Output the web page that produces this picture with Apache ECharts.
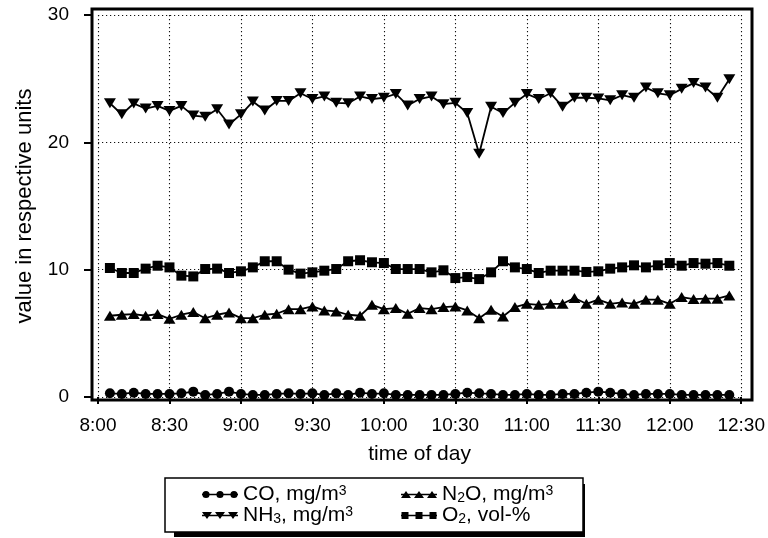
<!DOCTYPE html>
<html><head><meta charset="utf-8">
<script src="https://cdn.jsdelivr.net/npm/echarts@6/dist/echarts.min.js"></script>
<style>html,body{margin:0;padding:0;background:#fff}#c{width:768px;height:538px}</style>
</head><body><div id="c"></div>
<script>
// ---- data ----
const times = ['8:05','8:10','8:15','8:20','8:25','8:30','8:35','8:40','8:45','8:50','8:55',
  '9:00','9:05','9:10','9:15','9:20','9:25','9:30','9:35','9:40','9:45','9:50','9:55',
  '10:00','10:05','10:10','10:15','10:20','10:25','10:30','10:35','10:40','10:45','10:50','10:55',
  '11:00','11:05','11:10','11:15','11:20','11:25','11:30','11:35','11:40','11:45','11:50','11:55',
  '12:00','12:05','12:10','12:15','12:20','12:25'];
const co = [0.29,0.24,0.34,0.24,0.24,0.24,0.29,0.42,0.16,0.24,0.42,0.24,0.16,0.16,0.24,0.29,0.24,0.29,0.16,0.29,0.16,0.34,0.24,0.29,0.16,0.16,0.16,
  0.16,0.16,0.24,0.34,0.29,0.24,0.16,0.16,0.24,0.16,0.16,0.24,0.24,0.34,0.42,0.34,0.24,0.16,0.24,0.24,0.24,0.16,0.16,0.16,0.16,0.16];
const nh3 = [23.07,22.2,23.05,22.65,22.86,22.47,22.86,22.1,22.0,22.6,21.4,22.2,23.2,22.5,23.25,23.25,23.85,23.4,23.6,23.1,23.07,23.6,23.4,23.5,23.8,22.9,23.4,
  23.6,23.0,23.1,22.3,19.1,22.8,22.3,23.1,23.8,23.4,23.85,22.8,23.5,23.5,23.45,23.3,23.7,23.5,24.3,23.85,23.7,24.2,24.65,24.3,23.5,24.96];
const n2o = [6.38,6.46,6.51,6.38,6.51,6.14,6.46,6.67,6.19,6.46,6.64,6.19,6.19,6.46,6.54,6.9,6.9,7.11,6.8,6.72,6.46,6.38,7.24,6.9,6.98,6.54,6.98,
  6.9,7.06,7.11,6.8,6.19,6.85,6.32,7.06,7.32,7.24,7.32,7.32,7.77,7.32,7.64,7.32,7.43,7.32,7.64,7.64,7.32,7.85,7.69,7.72,7.72,7.98];
const o2 = [10.13,9.74,9.74,10.08,10.31,10.18,9.53,9.47,10.05,10.08,9.74,9.87,10.18,10.66,10.66,10.0,9.69,9.79,9.92,10.05,10.66,10.74,10.58,10.52,10.05,10.05,10.05,
  9.79,9.95,9.34,9.42,9.26,9.79,10.66,10.18,10.05,9.74,9.92,9.92,9.92,9.82,9.87,10.08,10.18,10.34,10.18,10.34,10.52,10.31,10.52,10.47,10.52,10.31];
const xTickLabels = ['8:00','8:30','9:00','9:30','10:00','10:30','11:00','11:30','12:00','12:30'];
const yTickLabels = ['0','10','20','30'];
const seriesNames = ['CO','NH3','N2O','O2'];
const legendRich = {
  CO: '{t|CO, mg/m}{sup|3}',
  NH3: '{t|NH}{sub|3}{t|, mg/m}{sup|3}',
  N2O: '{t|N}{sub|2}{t|O, mg/m}{sup|3}',
  O2: '{t|O}{sub|2}{t|, vol-%}'
};
const xTitle = 'time of day';
const yTitle = 'value in respective units';

// ---- helpers ----
function toMin(s){const p=s.split(':');return (+p[0])*60+(+p[1]);}
const xMin = toMin(xTickLabels[0]), xMax = toMin(xTickLabels[xTickLabels.length-1]);
const FONT = '"Liberation Sans", Arial, Helvetica, sans-serif';
function pts(vals){return vals.map((v,i)=>[toMin(times[i]),v]);}

function circles(){let p='M0,3.3H36V4.7H0Z';[4,18,32].forEach(c=>{p+='M'+(c-3.6)+',4A3.6,3.6 0 1 1 '+(c+3.6)+',4A3.6,3.6 0 1 1 '+(c-3.6)+',4Z';});return 'path://'+p;}
function trisDown(){let p='M0,3.3H36V4.7H0Z';[5,18,31].forEach(c=>{p+='M'+(c-5)+',0.5H'+(c+5)+'L'+c+',7.5Z';});return 'path://'+p;}
function trisUp(){let p='M0,3.3H36V4.7H0Z';[5,18,31].forEach(c=>{p+='M'+(c-5)+',7.5L'+c+',0.5L'+(c+5)+',7.5Z';});return 'path://'+p;}
function squares(){let p='M0,3.3H36V4.7H0Z';[4,18,32].forEach(c=>{p+='M'+(c-3.5)+',0.5H'+(c+3.5)+'V7.5H'+(c-3.5)+'Z';});return 'path://'+p;}

const chart = echarts.init(document.getElementById('c'), null, {renderer:'canvas'});
const lineStyle = {color:'#000', width:1.8};
const itemStyle = {color:'#000'};
const split = {show:true, lineStyle:{color:'#111', width:1.1, type:[1.2,2.8]}};

chart.setOption({
  animation:false,
  backgroundColor:'#fff',
  textStyle:{fontFamily:FONT, color:'#000'},
  grid:[
    {left:98, right:24, top:15, bottom:141, show:false},
    {left:92, right:16, top:9, bottom:138, show:true, borderColor:'#000', borderWidth:3, backgroundColor:'transparent'}
  ],
  graphic:[
    {type:'rect', z:0, silent:true, shape:{x:174, y:484, width:411, height:53}, style:{fill:'#000'}}
  ],
  xAxis:[
    {type:'value', gridIndex:0, min:xMin, max:xMax, interval:30, offset:3,
     axisLine:{show:false}, axisTick:{show:true, length:7, lineStyle:{color:'#000', width:2}},
     axisLabel:{margin:16, fontSize:19, color:'#000', fontFamily:FONT,
       formatter:v=>xTickLabels[Math.round((v-xMin)/30)] || ''},
     splitLine:split,
     name:xTitle, nameLocation:'middle', nameGap:44,
     nameTextStyle:{fontSize:21, color:'#000', fontFamily:FONT}},
    {type:'value', gridIndex:1, show:false, min:0, max:1}
  ],
  yAxis:[
    {type:'value', gridIndex:0, min:0, max:30, interval:10, offset:5,
     axisLine:{show:false}, axisTick:{show:true, length:9, lineStyle:{color:'#000', width:2}},
     axisLabel:{margin:24, fontSize:19, color:'#000', fontFamily:FONT,
       formatter:v=>yTickLabels[Math.round(v/10)] || ''},
     splitLine:split,
     name:yTitle, nameLocation:'middle', nameGap:57, nameRotate:90,
     nameTextStyle:{fontSize:22, color:'#000', fontFamily:FONT}},
    {type:'value', gridIndex:1, show:false, min:0, max:1}
  ],
  legend:{
    orient:'horizontal', left:165, top:478, width:372, z:5,
    padding:[6,11,6,37], itemGap:0, itemWidth:36, itemHeight:8,
    backgroundColor:'#fff', borderColor:'#000', borderWidth:1.5, borderRadius:0,
    selectedMode:false,
    data:[
      {name:'CO', icon:circles(), textStyle:{width:158}},
      {name:'N2O', icon:trisUp(), textStyle:{width:130}},
      {name:'NH3', icon:trisDown(), textStyle:{width:158}},
      {name:'O2', icon:squares(), textStyle:{width:130}}
    ],
    formatter:n=>legendRich[n],
    textStyle:{color:'#000', fontFamily:FONT, fontSize:21, lineHeight:21,
      rich:{
        t:{fontSize:21, lineHeight:21, fontFamily:FONT, color:'#000'},
        sup:{fontSize:14, lineHeight:14, verticalAlign:'top', fontFamily:FONT, color:'#000'},
        sub:{fontSize:14, lineHeight:14, verticalAlign:'bottom', fontFamily:FONT, color:'#000'}
      }}
  },
  series:[
    {name:seriesNames[0], type:'line', xAxisIndex:0, yAxisIndex:0, data:pts(co), symbol:'circle', symbolSize:10, lineStyle, itemStyle, z:3},
    {name:seriesNames[1], type:'line', xAxisIndex:0, yAxisIndex:0, data:pts(nh3), symbol:'triangle', symbolSize:[12,10], symbolRotate:180, lineStyle, itemStyle, z:3},
    {name:seriesNames[2], type:'line', xAxisIndex:0, yAxisIndex:0, data:pts(n2o), symbol:'triangle', symbolSize:[12,10], lineStyle, itemStyle, z:3},
    {name:seriesNames[3], type:'line', xAxisIndex:0, yAxisIndex:0, data:pts(o2), symbol:'rect', symbolSize:10, lineStyle, itemStyle, z:3}
  ]
});
</script></body></html>
